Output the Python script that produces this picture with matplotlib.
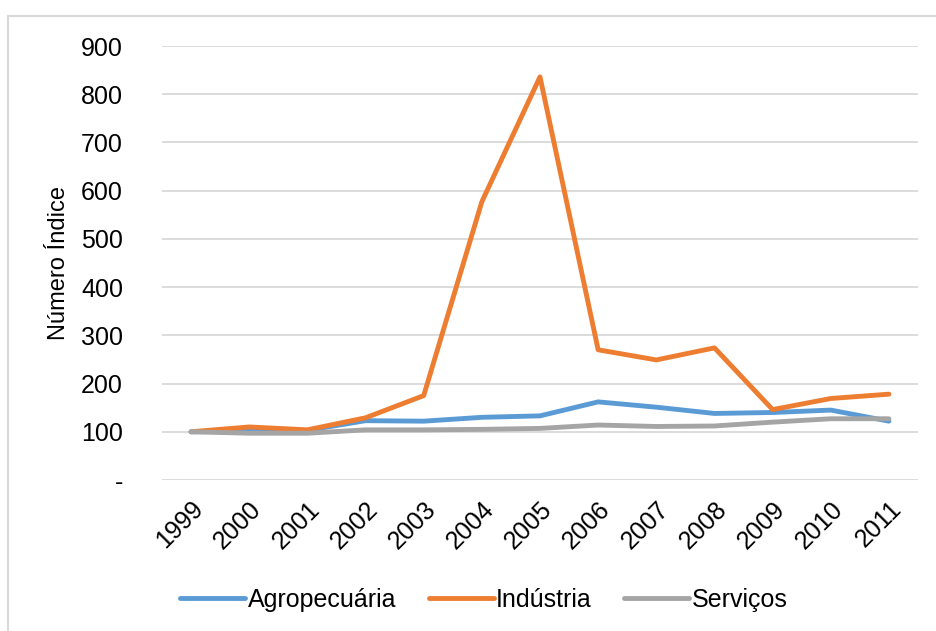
import numpy as np
import matplotlib.pyplot as plt
from matplotlib.patches import Rectangle

anos = ['1999', '2000', '2001', '2002', '2003', '2004', '2005',
        '2006', '2007', '2008', '2009', '2010', '2011']
agropecuaria = [100, 101, 103, 123, 122, 130, 133, 162, 151, 138, 140, 145, 122]
industria = [100, 110, 104, 129, 175, 577, 836, 270, 249, 274, 146, 169, 178]
servicos = [100, 97, 97, 104, 104, 105, 107, 114, 111, 112, 120, 127, 127]

plt.rcParams['font.family'] = ['Liberation Sans', 'DejaVu Sans']

fig = plt.figure(figsize=(9.37, 6.31), dpi=100)
fig.patches.append(Rectangle((8 / 937, -0.1), 1.1, 1 - 16 / 631 + 0.1,
                             transform=fig.transFigure, fill=False,
                             edgecolor='#d9d9d9', linewidth=1.5))
ax = fig.add_axes([162 / 937, 1 - 480 / 631, (918 - 162) / 937, (480 - 46) / 631])

x = np.arange(len(anos))
ax.plot(x, agropecuaria, color='#5b9bd5', lw=3.5, label='Agropecuária', solid_capstyle='round')
ax.plot(x, industria, color='#ed7d31', lw=3.5, label='Indústria', solid_capstyle='round')
ax.plot(x, servicos, color='#a5a5a5', lw=3.5, label='Serviços', solid_capstyle='round')

ax.set_xlim(-0.5, len(anos) - 0.5)
ax.set_ylim(0, 900)
ax.set_yticks(range(0, 1000, 100))
ax.set_yticklabels(['-'] + [str(v) for v in range(100, 1000, 100)], fontsize=18)
ax.yaxis.grid(True, color='#d9d9d9', lw=1.3)
ax.set_axisbelow(True)
ax.set_xticks(x)
ax.set_xticklabels(anos, fontsize=18, rotation=45, ha='right', rotation_mode='anchor')
ax.tick_params(length=0)
ax.tick_params(axis='y', pad=28)
ax.tick_params(axis='x', pad=12)
for s in ax.spines.values():
    s.set_visible(False)
ax.set_ylabel('Número Índice', fontsize=17, labelpad=8)

fig.legend(loc='center', bbox_to_anchor=(484 / 937, 1 - 600 / 631), ncol=3,
           frameon=False, fontsize=18, handlelength=2.6, handletextpad=0.1,
           columnspacing=1.3)

fig.savefig('out.png', dpi=100)
